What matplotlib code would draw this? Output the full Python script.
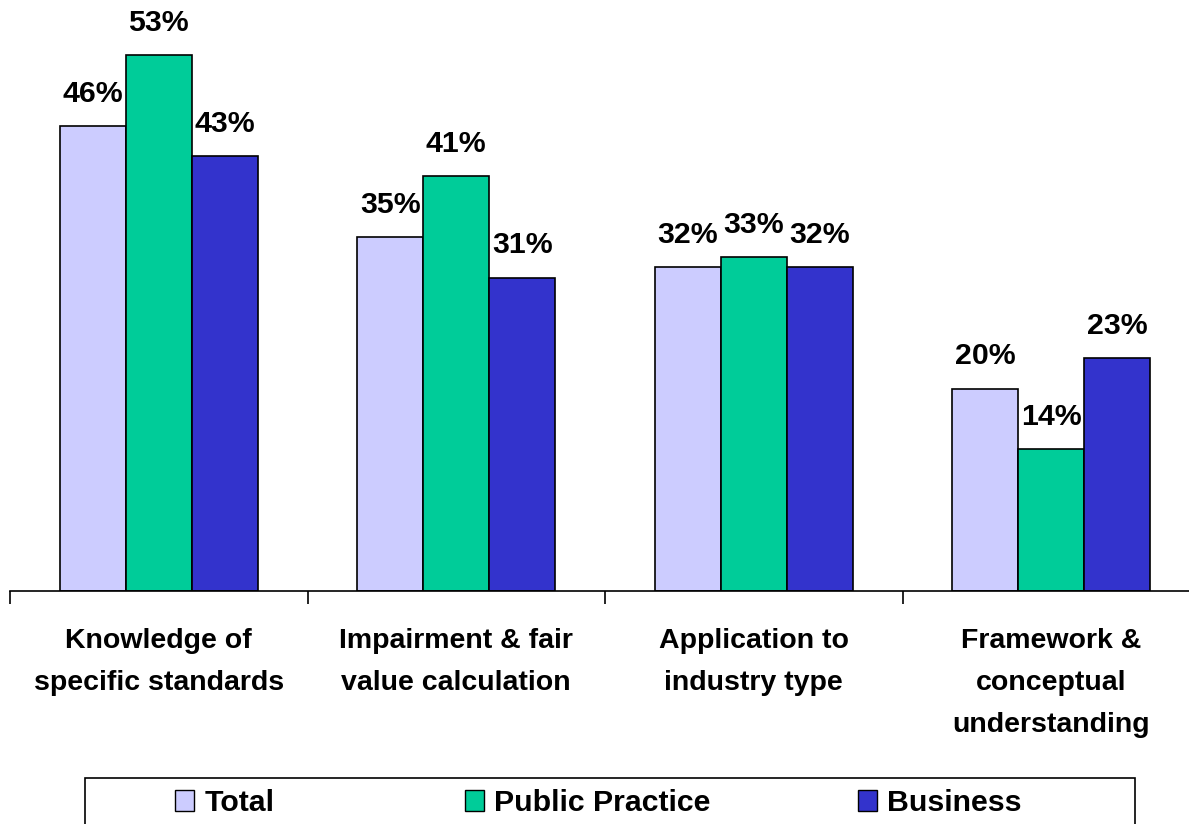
import matplotlib
matplotlib.use("Agg")
import matplotlib.pyplot as plt
import numpy as np
from matplotlib.patches import Rectangle, Patch

categories = ["Knowledge of\nspecific standards", "Impairment & fair\nvalue calculation",
              "Application to\nindustry type", "Framework &\nconceptual\nunderstanding"]
series_names = ["Total", "Public Practice", "Business"]
total = [46, 35, 32, 20]
public_practice = [53, 41, 33, 14]
business = [43, 31, 32, 23]
colors = ["#CCCCFF", "#00CC99", "#3333CC"]

plt.rcParams['font.family'] = ['Liberation Sans', 'DejaVu Sans']
plt.rcParams['font.weight'] = 'bold'

W, H = 1189, 824
fig = plt.figure(figsize=(W / 100, H / 100), dpi=100)
ax = fig.add_axes([10 / W, 1 - 591 / H, 1190 / W, 591 / H])

x = np.arange(len(categories))
bw = 0.222
series = [total, public_practice, business]
for i, (vals, c, name) in enumerate(zip(series, colors, series_names)):
    pos = x + (i - 1) * bw
    bars = ax.bar(pos, vals, width=bw, color=c, edgecolor="black", linewidth=1.2, label=name, zorder=2)
    for b, v in zip(bars, vals):
        ax.annotate(f"{v}%", (b.get_x() + b.get_width() / 2, v), xytext=(0, 17.5),
                    textcoords="offset points", ha="center", va="baseline",
                    fontsize=21.8, fontweight="bold")

ax.set_xlim(-0.5, len(categories) - 0.5)
ax.set_ylim(0, 58.45)
for s in ["left", "right", "top"]:
    ax.spines[s].set_visible(False)
ax.spines["bottom"].set_linewidth(1.2)
ax.set_yticks([])
ax.set_xticks(np.arange(-0.5, len(categories)), minor=False)
ax.set_xticklabels([])
ax.tick_params(axis="x", which="major", direction="out", length=9, width=1.2)
ax.set_xticks(x, minor=True)
ax.set_xticklabels(categories, minor=True, fontsize=20.5, fontweight="bold", linespacing=1.78, va="top")
ax.tick_params(axis="x", which="minor", length=0, pad=27)

# legend box
fig.patches.append(Rectangle((85 / W, 1 - 830 / H), 1050 / W, 52 / H, transform=fig.transFigure,
                             fill=False, edgecolor="black", linewidth=1.2))
marker_x = [175, 465, 858]
for c, name, mx in zip(colors, series_names, marker_x):
    h = Patch(facecolor=c, edgecolor="black", linewidth=1.0)
    fig.legend([h], [name], loc="center left", bbox_to_anchor=(mx / W, 1 - 803 / H),
               frameon=False, borderpad=0, borderaxespad=0, handlelength=0.62,
               handleheight=0.68, handletextpad=0.35, prop={'weight': 'bold', 'size': 21.8})

fig.savefig("out.png", dpi=100)
